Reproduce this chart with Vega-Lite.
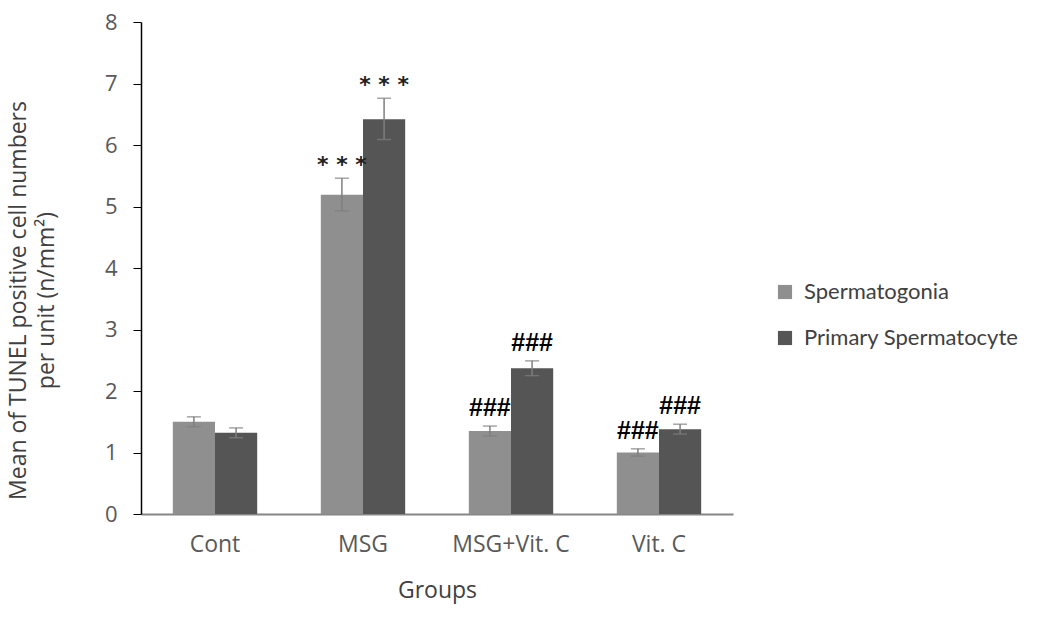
{
  "$schema": "https://vega.github.io/schema/vega-lite/v6.json",
  "width": 592,
  "height": 492,
  "autosize": "none",
  "padding": {"left": 141, "top": 22, "right": 319, "bottom": 117},
  "background": "white",
  "config": {"view": {"stroke": null}, "font": "Open Sans"},
  "data": {
    "values": [
      {"group": "Cont", "cell": "Spermatogonia", "mean": 1.50, "lo": 1.42, "hi": 1.58, "sig": ""},
      {"group": "Cont", "cell": "Primary Spermatocyte", "mean": 1.32, "lo": 1.24, "hi": 1.40, "sig": ""},
      {"group": "MSG", "cell": "Spermatogonia", "mean": 5.19, "lo": 4.93, "hi": 5.46, "sig": "* * *"},
      {"group": "MSG", "cell": "Primary Spermatocyte", "mean": 6.42, "lo": 6.09, "hi": 6.76, "sig": "* * *"},
      {"group": "MSG+Vit. C", "cell": "Spermatogonia", "mean": 1.35, "lo": 1.27, "hi": 1.43, "sig": "###"},
      {"group": "MSG+Vit. C", "cell": "Primary Spermatocyte", "mean": 2.37, "lo": 2.25, "hi": 2.49, "sig": "###"},
      {"group": "Vit. C", "cell": "Spermatogonia", "mean": 1.00, "lo": 0.94, "hi": 1.06, "sig": "###"},
      {"group": "Vit. C", "cell": "Primary Spermatocyte", "mean": 1.38, "lo": 1.30, "hi": 1.46, "sig": "###"}
    ]
  },
  "encoding": {
    "x": {
      "field": "group",
      "type": "nominal",
      "sort": ["Cont", "MSG", "MSG+Vit. C", "Vit. C"],
      "scale": {"paddingInner": 0.43, "paddingOuter": 0.215},
      "axis": {
        "title": "Groups",
        "titleFontSize": 23,
        "titleFontWeight": "normal",
        "titleColor": "#404040",
        "titleBaseline": "middle",
        "titleY": 76,
        "labelAngle": 0,
        "labelFontSize": 23,
        "labelColor": "#595959",
        "labelPadding": 19,
        "ticks": false,
        "tickSize": 0,
        "domainColor": "#868686",
        "domainWidth": 2
      }
    },
    "xOffset": {"field": "cell", "type": "nominal", "sort": ["Spermatogonia", "Primary Spermatocyte"]}
  },
  "layer": [
    {
      "mark": {"type": "bar"},
      "encoding": {
        "y": {
          "field": "mean",
          "type": "quantitative",
          "scale": {"domain": [0, 8]},
          "axis": {
            "title": ["Mean of TUNEL positive cell numbers", "per unit (n/mm²)"],
            "titleFontSize": 23,
            "titleFontWeight": "normal",
            "titleColor": "#404040",
            "titleAngle": -90,
            "titleAlign": "center",
            "titleBaseline": "top",
            "titleLineHeight": 28,
            "titleX": -134,
            "titleY": 278,
            "tickCount": 8,
            "grid": false,
            "labelFontSize": 22,
            "labelColor": "#595959",
            "labelPadding": 16,
            "tickSize": 8,
            "tickColor": "black",
            "domainColor": "black",
            "domainWidth": 1.5
          }
        },
        "color": {
          "field": "cell",
          "type": "nominal",
          "sort": ["Spermatogonia", "Primary Spermatocyte"],
          "scale": {"domain": ["Spermatogonia", "Primary Spermatocyte"], "range": ["#8f8f8f", "#555555"]},
          "legend": {
            "title": null,
            "orient": "none",
            "legendX": 633,
            "legendY": 259,
            "symbolType": "square",
            "symbolSize": 200,
            "symbolStrokeWidth": 0,
            "labelFont": "Lato",
            "labelFontSize": 22,
            "labelColor": "#404040",
            "labelLimit": 0,
            "labelOffset": 8,
            "rowPadding": 24
          }
        }
      }
    },
    {
      "mark": {"type": "rule", "color": "#7f7f7f", "strokeWidth": 1.5},
      "encoding": {"y": {"field": "lo", "type": "quantitative"}, "y2": {"field": "hi"}}
    },
    {
      "mark": {"type": "tick", "color": "#7f7f7f", "thickness": 1.5, "size": 14, "orient": "horizontal"},
      "encoding": {"y": {"field": "hi", "type": "quantitative"}}
    },
    {
      "mark": {"type": "tick", "color": "#7f7f7f", "thickness": 1.5, "size": 14, "orient": "horizontal"},
      "encoding": {"y": {"field": "lo", "type": "quantitative"}}
    },
    {
      "transform": [{"filter": "datum.sig == '###'"}],
      "mark": {"type": "text", "font": "Liberation Sans", "fontSize": 25, "fontWeight": "bold", "color": "black", "baseline": "middle", "dy": -18},
      "encoding": {"y": {"field": "hi", "type": "quantitative"}, "text": {"field": "sig"}}
    },
    {
      "transform": [{"filter": "datum.sig == '* * *'"}],
      "mark": {"type": "text", "font": "DejaVu Sans", "fontSize": 22, "fontWeight": "bold", "color": "#222222", "baseline": "middle", "dy": -13},
      "encoding": {"y": {"field": "hi", "type": "quantitative"}, "text": {"field": "sig"}}
    }
  ]
}
